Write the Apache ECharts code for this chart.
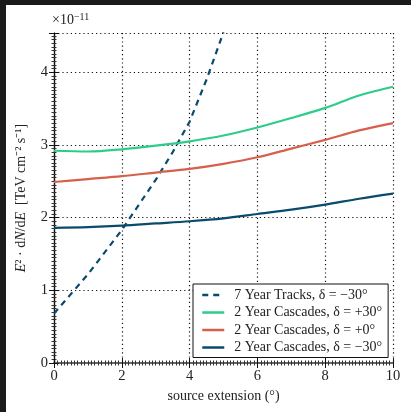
<!DOCTYPE html>
<html>
<head>
<meta charset="utf-8">
<script src="https://cdn.jsdelivr.net/npm/echarts@6/dist/echarts.min.js"></script>
<style>
html,body{margin:0;padding:0;background:#1b1b1b;width:411px;height:412px;overflow:hidden;}
#main{position:absolute;left:6px;top:5px;width:405px;height:407px;background:#fff;}
</style>
</head>
<body>
<div id="main"></div>
<script>
// source extension (deg)
var trackX = [0, 1, 2, 3, 3.5, 4, 4.5, 5];
var trackY = [0.68, 1.22, 1.83, 2.52, 2.9, 3.32, 3.9, 4.55];
var cascX = [0, 1, 2, 3, 4, 5, 6, 7, 8, 9, 10];
var casc30 = [2.92, 2.91, 2.94, 2.99, 3.05, 3.13, 3.24, 3.37, 3.51, 3.68, 3.80];
var casc0 = [2.49, 2.53, 2.57, 2.62, 2.67, 2.74, 2.83, 2.95, 3.07, 3.20, 3.30];
var cascM30 = [1.86, 1.87, 1.89, 1.92, 1.95, 1.99, 2.05, 2.11, 2.18, 2.26, 2.33];
var names = ['7 Year Tracks, δ = −30°', '2 Year Cascades, δ = +30°', '2 Year Cascades, δ = +0°', '2 Year Cascades, δ = −30°'];
var colors = ['#0a4a6c', '#2dcd89', '#d6604b', '#0a4a6c'];

function pairs(xs, ys) {
    return xs.map(function (x, i) { return [x, ys[i]]; });
}

var font = 'Liberation Serif';
var myChart = echarts.init(document.getElementById('main'));

function axisCommon(show) {
    return {
        axisLine: {show: true, lineStyle: {color: '#111', width: 1.2}},
        axisTick: {show: true, inside: true, length: 5, lineStyle: {color: '#111'}},
        minorTick: {show: true, splitNumber: 20, length: 2.5, lineStyle: {color: '#333'}},
        axisLabel: {show: show, color: '#222', fontFamily: font, fontSize: 14.5, margin: 6}
    };
}

var xBottom = Object.assign(axisCommon(true), {
    type: 'value', min: 0, max: 10, interval: 2, position: 'bottom',
    name: 'source extension (°)', nameLocation: 'middle', nameGap: 22,
    nameTextStyle: {fontFamily: font, fontSize: 14, color: '#222'},
    splitLine: {show: true, lineStyle: {color: '#111', type: [1.2, 3], width: 1.2}}
});
var xTop = Object.assign(axisCommon(false), {
    type: 'value', min: 0, max: 10, interval: 2, position: 'top', splitLine: {show: false}
});
xTop.axisLine.lineStyle.color = '#666';
xTop.axisLine.lineStyle.width = 2;

var yLeft = Object.assign(axisCommon(true), {
    type: 'value', min: 0, max: 4.54, interval: 1, position: 'left',
    name: '{i|E}²{n| · d}{i|N}{n|/d}{i|E}{n|  [TeV cm⁻² s⁻¹]}', nameLocation: 'middle', nameGap: 26,
    nameTextStyle: {
        fontFamily: font, fontSize: 14, color: '#222',
        rich: {
            i: {fontFamily: font, fontStyle: 'italic', fontSize: 14, color: '#222'},
            n: {fontFamily: font, fontSize: 14, color: '#222'}
        }
    },
    splitLine: {show: true, lineStyle: {color: '#111', type: [1.2, 3], width: 1.2}}
});
yLeft.axisLabel.showMaxLabel = false;
var yRight = Object.assign(axisCommon(false), {
    type: 'value', min: 0, max: 4.54, interval: 1, position: 'right', splitLine: {show: false}
});

var series = [
    {name: names[0], type: 'line', data: pairs(trackX, trackY), symbol: 'none',
        lineStyle: {color: colors[0], width: 2.2, type: [6, 5]}, itemStyle: {color: colors[0]}},
    {name: names[1], type: 'line', data: pairs(cascX, casc30), symbol: 'none', smooth: 0.3,
        lineStyle: {color: colors[1], width: 2.2}, itemStyle: {color: colors[1]}},
    {name: names[2], type: 'line', data: pairs(cascX, casc0), symbol: 'none', smooth: 0.3,
        lineStyle: {color: colors[2], width: 2.2}, itemStyle: {color: colors[2]}},
    {name: names[3], type: 'line', data: pairs(cascX, cascM30), symbol: 'none', smooth: 0.3,
        lineStyle: {color: colors[3], width: 2.2}, itemStyle: {color: colors[3]}}
];

var option = {
    animation: false,
    grid: {left: 46, top: 28, right: 18, bottom: 49},
    xAxis: [xBottom, xTop],
    yAxis: [yLeft, yRight],
    legend: {
        data: names,
        orient: 'vertical',
        left: 187, top: 279,
        padding: [4, 6, 3, 8],
        itemGap: 3.5,
        itemWidth: 22,
        itemHeight: 13,
        itemStyle: {opacity: 0},
        lineStyle: {width: 2.5},
        backgroundColor: '#fff',
        borderColor: '#111',
        borderWidth: 1,
        textStyle: {fontFamily: font, fontSize: 14, color: '#222', padding: [0, 0, 0, 5]}
    },
    graphic: [{
        type: 'text', left: 46, top: 7,
        style: {
            text: '×10{s|−11}',
            fontFamily: font, fontSize: 14, fill: '#222',
            rich: {s: {fontFamily: font, fontSize: 10, fill: '#222', verticalAlign: 'top', padding: [0, 0, 6, 0]}}
        }
    }],
    series: series
};
myChart.setOption(option);
</script>
</body>
</html>
